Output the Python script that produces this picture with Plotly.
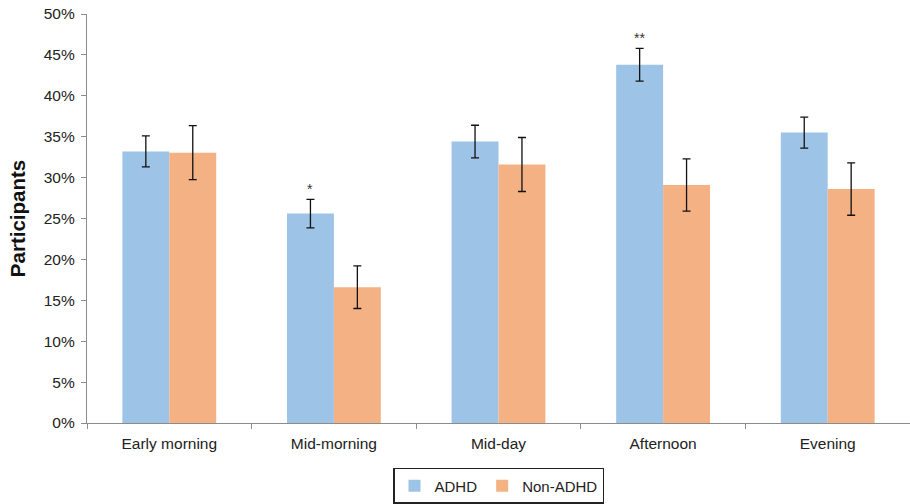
import plotly.graph_objects as go

categories = ["Early morning", "Mid-morning", "Mid-day", "Afternoon", "Evening"]
adhd = [33.2, 25.6, 34.4, 43.8, 35.5]
adhd_err = [1.9, 1.75, 2.0, 2.0, 1.9]
non_adhd = [33.05, 16.6, 31.6, 29.1, 28.6]
non_adhd_err = [3.3, 2.6, 3.3, 3.2, 3.2]
significance = ["", "*", "", "**", ""]
y_ticks = [0, 5, 10, 15, 20, 25, 30, 35, 40, 45, 50]
y_tick_labels = [f"{v}%" for v in y_ticks]

FONT = "Liberation Sans, Arial, sans-serif"

fig = go.Figure()
fig.add_trace(go.Bar(
    name="ADHD", x=categories, y=adhd,
    marker=dict(color="#9DC3E6", line=dict(width=0)),
    error_y=dict(type="data", array=adhd_err, color="#111111", thickness=1.3, width=4),
))
fig.add_trace(go.Bar(
    name="Non-ADHD", x=categories, y=non_adhd,
    marker=dict(color="#F4B183", line=dict(width=0)),
    error_y=dict(type="data", array=non_adhd_err, color="#111111", thickness=1.3, width=4),
))

for cat, v, e, s in zip(categories, adhd, adhd_err, significance):
    if s:
        fig.add_annotation(x=cat, y=v + e, text=s, showarrow=False, xref="x", yref="y",
                           xshift=-23.5, yanchor="bottom", yshift=0,
                           font=dict(family=FONT, size=14, color="#333333"))

fig.update_layout(
    width=910, height=504,
    margin=dict(l=87, r=0, t=14, b=77),
    paper_bgcolor="white", plot_bgcolor="white",
    barmode="group", bargap=0.43, bargroupgap=0,
    font=dict(family=FONT, size=15.5, color="#222222"),
    showlegend=True,
    legend=dict(orientation="h", x=0.5, xanchor="center", y=-0.11, yanchor="top",
                bordercolor="#222222", borderwidth=1.5,
                font=dict(family=FONT, size=15, color="#222222"),
                itemwidth=30, tracegroupgap=0),
    xaxis=dict(
        showline=True, linecolor="#8c8c8c", linewidth=1.3,
        ticks="outside", tickson="boundaries", ticklen=5, tickcolor="#8c8c8c",
        tickfont=dict(family=FONT, size=15.5, color="#222222"),
        ticklabelstandoff=6,
        showgrid=False, zeroline=False,
    ),
    yaxis=dict(
        range=[0, 50], tickvals=y_ticks, ticktext=y_tick_labels,
        showline=True, linecolor="#8c8c8c", linewidth=1.3,
        ticks="outside", ticklen=5, tickcolor="#8c8c8c",
        tickfont=dict(family=FONT, size=15.5, color="#222222"),
        ticklabelstandoff=3,
        showgrid=False, zeroline=False,
        title=dict(text="<b>Participants</b>", font=dict(family=FONT, size=20.5, color="#111111"), standoff=12),
    ),
)

fig.write_html("out.html")
